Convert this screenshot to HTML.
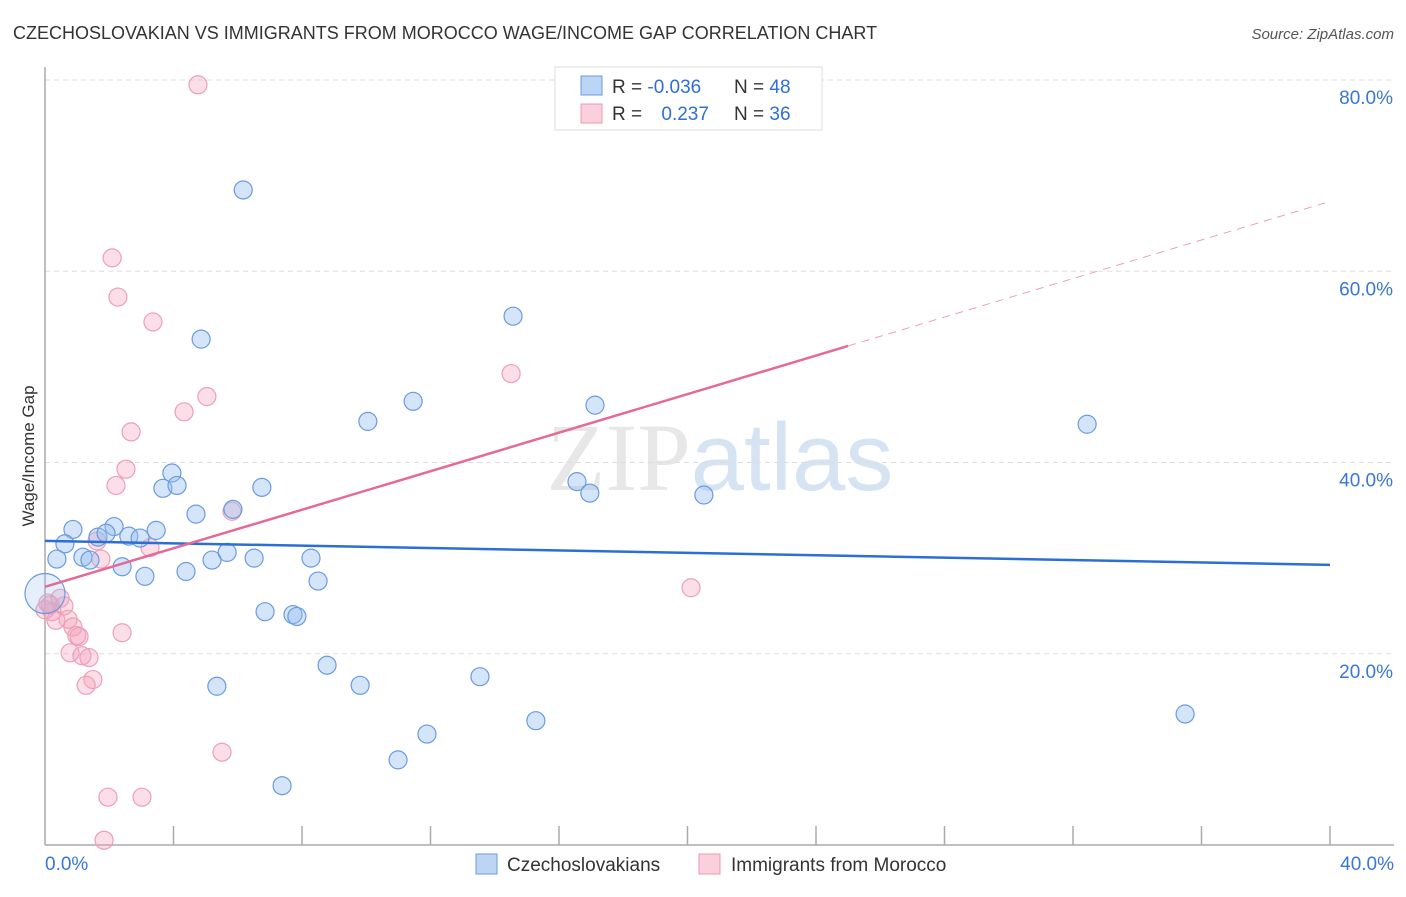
<!DOCTYPE html>
<html><head><meta charset="utf-8"><style>
body{margin:0;background:#fff;font-family:"Liberation Sans",sans-serif;}
svg text{font-family:"Liberation Sans",sans-serif;}
</style></head><body>
<svg id="chart" width="1406" height="892" xmlns="http://www.w3.org/2000/svg">
<text x="13" y="39" font-size="18" fill="#333">CZECHOSLOVAKIAN VS IMMIGRANTS FROM MOROCCO WAGE/INCOME GAP CORRELATION CHART</text>
<text x="1394" y="39" font-size="15" fill="#555" text-anchor="end" font-style="italic">Source: ZipAtlas.com</text>
<text x="720" y="490" font-size="96" text-anchor="middle" fill="#ddd" opacity="0.7"><tspan font-family="Liberation Serif">ZIP</tspan><tspan fill="#c5d8ef">atlas</tspan></text>
<g id="grid"></g>
<g id="axes"></g>
<g id="marks"></g>
<text transform="translate(34,456) rotate(-90)" font-size="17" fill="#333" text-anchor="middle">Wage/Income Gap</text>
<g>
<rect x="555" y="67" width="267" height="63" fill="#fff" stroke="#ddd"/>
<rect x="581" y="76" width="21" height="19" fill="#bcd5f5" stroke="#6a9ae0"/>
<rect x="581" y="104" width="21" height="19" fill="#fbd0dc" stroke="#ec99b3"/>
<text x="612" y="93" font-size="19" fill="#333">R = <tspan fill="#2f6fd6">-0.036</tspan></text>
<text x="734" y="93" font-size="19" fill="#333">N = <tspan fill="#2f6fd6">48</tspan></text>
<text x="612" y="120" font-size="19" fill="#333">R = <tspan fill="#2f6fd6" dx="14">0.237</tspan></text>
<text x="734" y="120" font-size="19" fill="#333">N = <tspan fill="#2f6fd6">36</tspan></text>
</g>
<g>
<rect x="476" y="854" width="21" height="20" fill="#bcd5f5" stroke="#6a9ae0"/>
<text x="507" y="871" font-size="19" fill="#333">Czechoslovakians</text>
<rect x="699" y="854" width="21" height="20" fill="#fbd0dc" stroke="#ec99b3"/>
<text x="731" y="871" font-size="19" fill="#333">Immigrants from Morocco</text>
</g>
</svg>
<script>
const blueX=[6.17,4.86,14.57,11.46,10.05,17.12,32.44,3.95,3.67,4.11,6.75,5.85,4.70,16.56,16.96,20.51,0.87,2.15,3.46,0.62,1.65,1.90,2.61,2.96,0.37,1.18,1.40,2.40,3.11,4.39,5.20,5.67,6.51,8.28,8.50,6.85,7.72,7.84,8.78,5.35,9.81,13.54,15.28,35.49,11.89,10.99,7.38,0.0];
const blueY=[68.5,52.9,55.3,46.4,44.3,46.0,44.0,38.9,37.3,37.6,37.4,35.1,34.6,38.0,36.8,36.6,33.0,33.3,32.9,31.5,32.2,32.6,32.3,32.1,29.9,30.1,29.8,29.1,28.1,28.6,29.8,30.6,30.0,30.0,27.6,24.4,24.1,23.9,18.8,16.6,16.7,17.6,13.0,13.7,11.6,8.9,6.2,26.3];
const blueR=[9,9,9,9,9,9,9,9,9,9,9,9,9,9,9,9,9,9,9,9,9,9,9,9,9,9,9,9,9,9,9,9,9,9,9,9,9,9,9,9,9,9,9,9,9,9,9,20];
const pinkX=[4.76,2.09,2.27,3.36,5.04,4.33,2.68,2.52,2.21,5.82,3.27,1.62,1.74,14.51,20.11,0.09,0.47,0.59,0.22,0.34,0.72,0.87,0.99,1.06,2.40,0.78,1.15,1.37,1.49,1.28,5.51,1.96,3.02,1.84,0.16,0.0];
const pinkY=[79.5,61.4,57.3,54.7,46.9,45.3,43.2,39.3,37.6,34.9,31.1,31.8,29.9,49.3,26.9,25.3,25.8,25.0,24.4,23.5,23.6,22.8,21.9,21.8,22.2,20.1,19.8,19.6,17.3,16.7,9.7,5.0,5.0,0.5,25.1,24.6];
const trendBlue=[31.8,29.3];
const trendPink=[27.0,67.3];
const pinkSolidEnd=25.0;
const xTicks=[0,4,8,12,16,20,24,28,32,36,40];
const yTicks=[20,40,60,80];
const NS="http://www.w3.org/2000/svg";
const X=v=>45+v*32.125, Y=v=>845-v*9.5625;
function mk(tag,attrs,parent){const e=document.createElementNS(NS,tag);for(const k in attrs)e.setAttribute(k,attrs[k]);document.getElementById(parent).appendChild(e);return e;}
yTicks.forEach(t=>{
 const g=mk('line',{x1:45,x2:1394,y1:Y(t),y2:Y(t),stroke:'#ddd','stroke-dasharray':'5,4'},'grid');
 
 
 const l=mk('text',{x:1393,y:Y(t)+24,'font-size':19,fill:'#3a76d8','text-anchor':'end'},'axes');
 l.textContent=t.toFixed(1)+'%';
 
 
});
const ax=mk('line',{x1:45,x2:45,y1:67,y2:845,stroke:'#aaa','stroke-width':1.5},'axes');


const bx=mk('line',{x1:45,x2:1394,y1:845,y2:845,stroke:'#aaa','stroke-width':1.5},'axes');


xTicks.slice(1).forEach(t=>{
 const tk=mk('line',{x1:X(t),x2:X(t),y1:826,y2:845,stroke:'#aaa','stroke-width':1.5},'axes');
 
 
});
[[0,'start',45],[40,'end',1394]].forEach(([v,a,px])=>{
 const l=mk('text',{x:px,y:870,'font-size':19,fill:'#3a76d8','text-anchor':a},'axes');
 l.textContent=v.toFixed(1)+'%';
 
 
});
pinkX.forEach((x,i)=>{
 const c=mk('circle',{cx:X(x),cy:Y(pinkY[i]),r:9,fill:'rgba(244,160,185,0.35)',stroke:'#eca0b8','stroke-width':1.2},'marks');
 
 
});
blueX.forEach((x,i)=>{
 const big=blueR[i]>12;
 const c=mk('circle',{cx:X(x),cy:Y(blueY[i]),r:blueR[i],fill:big?'rgba(150,190,240,0.25)':'rgba(150,190,240,0.4)',stroke:'#6a9ae0','stroke-width':1.2},'marks');
 
 
});
const pv=x=>trendPink[0]+(trendPink[1]-trendPink[0])*x/40;
const tb=mk('line',{x1:X(0),y1:Y(trendBlue[0]),x2:X(40),y2:Y(trendBlue[1]),stroke:'#2b6fd4','stroke-width':2.5},'marks');


const tp=mk('line',{x1:X(0),y1:Y(pv(0)),x2:X(pinkSolidEnd),y2:Y(pv(pinkSolidEnd)),stroke:'#e56a95','stroke-width':2.5},'marks');


const td=mk('line',{x1:X(pinkSolidEnd),y1:Y(pv(pinkSolidEnd)),x2:X(40),y2:Y(pv(40)),stroke:'#eaa0b8','stroke-width':1,'stroke-dasharray':'8,6'},'marks');


</script>
</body></html>
